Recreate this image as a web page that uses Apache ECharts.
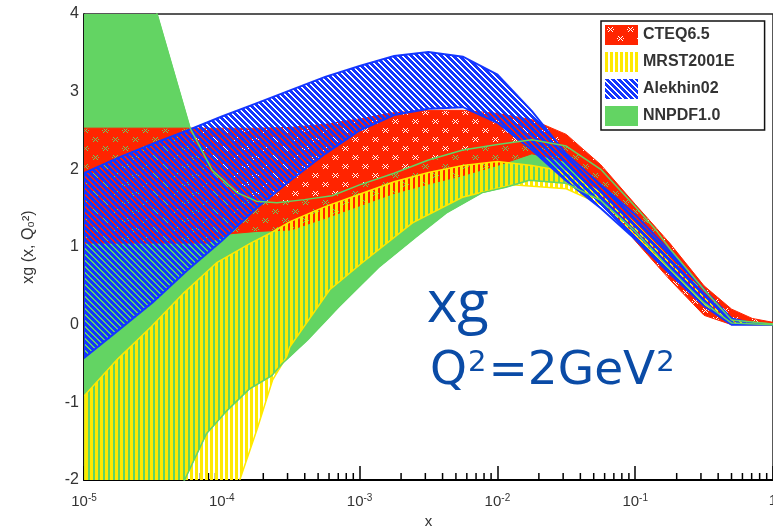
<!DOCTYPE html>
<html>
<head>
<meta charset="utf-8">
<script src="https://cdn.jsdelivr.net/npm/echarts@6/dist/echarts.min.js"></script>
<style>
html, body { margin: 0; padding: 0; background: #fff; }
#chart { width: 773px; height: 526px; }
</style>
</head>
<body>
<div id="chart"></div>
<script>
// CTEQ6.5
var cteqX  = [1e-5, 7.8e-5, 1.15e-4, 1.78e-4, 3.16e-4, 5.62e-4, 1e-3, 1.78e-3, 3.16e-3, 5.62e-3, 1e-2, 1.78e-2, 3.16e-2, 5.62e-2, 0.1, 0.178, 0.316, 0.501, 0.708, 1];
var cteqUp = [2.53, 2.53, 2.53, 2.53, 2.54, 2.58, 2.65, 2.73, 2.76, 2.76, 2.72, 2.64, 2.45, 2.06, 1.55, 1.05, 0.5, 0.2, 0.08, 0.03];
var cteqLo = [1.05, 1.05, 1.17, 1.2, 1.22, 1.37, 1.53, 1.69, 1.81, 1.92, 2.05, 2.2, 2.1, 1.62, 1.08, 0.58, 0.12, 0.0, 0.0, 0.0];

// MRST2001E
var mrstUpX = [1e-5, 1.74e-5, 3.06e-5, 5.31e-5, 9.2e-5, 1.62e-4, 2.26e-4, 3.16e-4, 5.62e-4, 1e-3, 1.78e-3, 3.16e-3, 5.62e-3, 1e-2, 1.78e-2, 3.16e-2, 5.62e-2, 0.1, 0.178, 0.316, 0.501, 0.708, 1];
var mrstUp  = [-0.92, -0.45, -0.03, 0.41, 0.8, 1.05, 1.18, 1.33, 1.52, 1.68, 1.84, 1.96, 2.05, 2.1, 2.05, 1.97, 1.7, 1.3, 0.85, 0.38, 0.06, 0.02, 0.01];
var mrstLoX = [1e-5, 3.16e-5, 1e-4, 1.35e-4, 1.8e-4, 2.34e-4, 2.96e-4, 3.11e-4, 6.07e-4, 1.05e-3, 2.42e-3, 5.57e-3, 1.28e-2, 3.16e-2, 5.62e-2, 0.1, 0.178, 0.316, 0.501, 0.708, 1];
var mrstLo  = [-4.0, -3.5, -2.6, -2.0, -1.35, -0.71, -0.41, -0.29, 0.45, 0.8, 1.31, 1.64, 1.8, 1.75, 1.55, 1.15, 0.7, 0.26, 0.02, 0.0, 0.0];

// Alekhin02
var almX  = [1e-5, 1.78e-5, 3.16e-5, 5.62e-5, 1e-4, 1.78e-4, 3.16e-4, 5.62e-4, 1e-3, 1.78e-3, 3.16e-3, 5.62e-3, 1e-2, 1.78e-2, 3.16e-2, 5.62e-2, 0.1, 0.178, 0.316, 0.501, 0.708, 1];
var almUp = [1.95, 2.15, 2.33, 2.5, 2.68, 2.85, 3.02, 3.19, 3.33, 3.46, 3.51, 3.45, 3.22, 2.75, 2.2, 1.8, 1.42, 0.95, 0.45, 0.08, 0.02, 0.0];
var almLo = [-0.43, -0.07, 0.29, 0.7, 1.08, 1.5, 1.86, 2.2, 2.5, 2.7, 2.78, 2.8, 2.6, 2.25, 1.85, 1.5, 1.1, 0.66, 0.24, 0.0, 0.0, 0.0];

// NNPDF1.0
var nnUpX = [1e-5, 1.78e-5, 3.39e-5, 5.89e-5, 8.51e-5, 1.29e-4, 1.78e-4, 2.51e-4, 3.98e-4, 6.31e-4, 1e-3, 1.78e-3, 3.16e-3, 5.62e-3, 1e-2, 1.78e-2, 3.16e-2, 5.62e-2, 0.1, 0.141, 0.178, 0.316, 0.501, 1];
var nnUp  = [7.0, 5.5, 4.0, 2.53, 1.99, 1.7, 1.59, 1.57, 1.61, 1.66, 1.8, 1.95, 2.12, 2.25, 2.32, 2.38, 2.3, 2.0, 1.52, 1.22, 0.98, 0.45, 0.06, 0.01];
var nnLoX = [1e-5, 2.51e-5, 5.37e-5, 7.76e-5, 1.1e-4, 1.58e-4, 2.29e-4, 2.75e-4, 4.17e-4, 7.08e-4, 1.38e-3, 2.57e-3, 4.27e-3, 7.76e-3, 1.15e-2, 1.7e-2, 3.16e-2, 5.62e-2, 0.1, 0.178, 0.316, 0.501, 1];
var nnLo  = [-4.0, -3.0, -2.0, -1.4, -1.1, -0.83, -0.66, -0.5, -0.2, 0.23, 0.74, 1.13, 1.44, 1.7, 1.77, 1.86, 1.82, 1.6, 1.2, 0.72, 0.28, 0.02, 0];

// axis ticks
var decades = [1e-5, 1e-4, 1e-3, 1e-2, 1e-1];
var minorSteps = [2, 3, 4, 5, 6, 7, 8, 9];

var RED = '#ff2400', YELLOW = '#ffe900', BLUE = '#1436ff', GREEN = '#63d463', TEXTBLUE = '#0a4ba6';

function tile(w, h, draw) {
  var c = document.createElement('canvas');
  c.width = w; c.height = h;
  draw(c.getContext('2d'));
  return { type: 'pattern', image: c, repeat: 'repeat' };
}

// red with little crosses punched out
var redFill = tile(20, 18, function (ctx) {
  ctx.fillStyle = RED;
  ctx.fillRect(0, 0, 20, 18);
  [[5, 4], [15, 13]].forEach(function (p) {
    [[0, 0], [-1, -1], [-2, -2], [1, 1], [2, 2], [-1, 1], [-2, 2], [1, -1], [2, -2], [-3, 0], [3, 0]].forEach(function (d) {
      ctx.clearRect(p[0] + d[0], p[1] + d[1], 1, 1);
    });
  });
});
// vertical yellow bars
var yellowFill = tile(5, 4, function (ctx) {
  ctx.fillStyle = YELLOW;
  ctx.fillRect(0, 0, 3, 4);
});
// blue "\" hatching
var blueFill = tile(6, 6, function (ctx) {
  ctx.fillStyle = BLUE;
  for (var y = 0; y < 6; y++) {
    for (var k = 0; k < 4; k++) ctx.fillRect((y + k) % 6, y, 1, 1);
  }
});

function pairs(xs, ys) {
  var out = [];
  for (var i = 0; i < xs.length; i++) out.push([xs[i], ys[i]]);
  return out;
}

function band(name, upX, up, loX, lo, fill, stroke, lw, z) {
  return {
    name: name,
    type: 'custom',
    z: z,
    clip: true,
    silent: true,
    itemStyle: { color: fill },
    data: [[upX[0], up[0]]],
    renderItem: function (params, api) {
      var pts = [];
      for (var i = 0; i < upX.length; i++) pts.push(api.coord([upX[i], up[i]]));
      for (var j = loX.length - 1; j >= 0; j--) pts.push(api.coord([loX[j], lo[j]]));
      var cs = params.coordSys;
      return {
        type: 'polygon',
        shape: { points: pts },
        clipPath: { type: 'rect', shape: { x: cs.x, y: cs.y, width: cs.width, height: cs.height } },
        style: { fill: fill, stroke: stroke, lineWidth: lw }
      };
    }
  };
}

function edge(xs, ys) {
  return {
    type: 'line',
    name: 'nnpdf-edge',
    data: pairs(xs, ys),
    symbol: 'none',
    silent: true,
    z: 7,
    lineStyle: { color: GREEN, width: 1.5 }
  };
}

var minorTicks = [];
decades.forEach(function (d) {
  minorSteps.forEach(function (m) { minorTicks.push([d * m, -2]); });
});

var chart = echarts.init(document.getElementById('chart'));

var option = {
  animation: false,
  backgroundColor: '#fff',
  grid: { left: 84, right: 0, top: 14, bottom: 46, outerBoundsMode: 'none', containLabel: false, show: true, borderColor: '#222', borderWidth: 1.5 },
  legend: {
    data: ['CTEQ6.5', 'MRST2001E', 'Alekhin02', 'NNPDF1.0'],
    orient: 'vertical',
    left: 601,
    top: 21,
    z: 10,
    icon: 'rect',
    itemWidth: 33,
    itemHeight: 20,
    itemGap: 7,
    padding: [4, 30, 4, 4],
    backgroundColor: '#fff',
    borderColor: '#111',
    borderWidth: 1.5,
    selectedMode: false,
    textStyle: { fontFamily: 'Liberation Sans', fontWeight: 'bold', fontSize: 16, color: '#333' }
  },
  xAxis: {
    type: 'log',
    logBase: 10,
    min: 1e-5,
    max: 1,
    splitNumber: 5,
    name: 'x',
    nameLocation: 'middle',
    nameGap: 24,
    nameTextStyle: { fontFamily: 'Liberation Sans', fontSize: 15, color: '#333' },
    axisLine: { show: true, onZero: false, lineStyle: { color: '#000', width: 2 } },
    axisTick: { inside: true, length: 14, lineStyle: { color: '#000', width: 1.5 } },
    splitLine: { show: false },
    axisLabel: {
      margin: 13,
      fontFamily: 'Liberation Sans',
      fontSize: 15,
      color: '#333',
      formatter: function (v) {
        var e = Math.round(Math.log(v) / Math.LN10);
        return e === 0 ? '1' : '10{sup|' + e + '}';
      },
      rich: { sup: { fontSize: 10, fontFamily: 'Liberation Sans', color: '#333', verticalAlign: 'bottom', padding: [0, 0, 7, 0] } }
    }
  },
  yAxis: {
    type: 'value',
    min: -2,
    max: 4,
    interval: 1,
    name: 'xg (x, Q\u2080\u00b2)',
    nameLocation: 'middle',
    nameRotate: 90,
    nameGap: 47,
    nameTextStyle: { fontFamily: 'Liberation Sans', fontSize: 16, color: '#333' },
    axisLine: { show: true, onZero: false, lineStyle: { color: '#000', width: 1.5 } },
    axisTick: { inside: true, length: 14, lineStyle: { color: '#000' } },
    splitLine: { show: false },
    axisLabel: { margin: 5, padding: [6, 0, 0, 0], fontFamily: 'Liberation Sans', fontSize: 16, color: '#333' }
  },
  graphic: [
    { type: 'text', x: 427, y: 305, z: 10, style: { text: 'xg', fontFamily: 'Open Sans', fontSize: 58, fill: TEXTBLUE, verticalAlign: 'middle' } },
    {
      type: 'text', x: 430, y: 372, z: 10,
      style: {
        text: 'Q{s|2}=2GeV{s|2}',
        fontFamily: 'DejaVu Sans', fontSize: 47, fill: TEXTBLUE, verticalAlign: 'middle',
        rich: { s: { fontFamily: 'DejaVu Sans', fontSize: 29, fill: TEXTBLUE, verticalAlign: 'top', padding: [0, 2, 0, 1] } }
      }
    }
  ],
  series: [
    {
      type: 'custom',
      name: 'minor-ticks',
      z: 1,
      silent: true,
      data: minorTicks,
      renderItem: function (params, api) {
        var p = api.coord([api.value(0), api.value(1)]);
        return { type: 'line', shape: { x1: p[0], y1: p[1], x2: p[0], y2: p[1] - 7 }, style: { stroke: '#000', lineWidth: 1.5 } };
      }
    },
    band('NNPDF1.0', nnUpX, nnUp, nnLoX, nnLo, GREEN, GREEN, 1, 3),
    band('CTEQ6.5', cteqX, cteqUp, cteqX, cteqLo, redFill, RED, 1, 4),
    band('MRST2001E', mrstUpX, mrstUp, mrstLoX, mrstLo, yellowFill, YELLOW, 1.5, 5),
    band('Alekhin02', almX, almUp, almX, almLo, blueFill, BLUE, 2, 6),
    edge(nnUpX, nnUp),
    edge(nnLoX, nnLo)
  ]
};

chart.setOption(option);
window.addEventListener('resize', function () { chart.resize(); });
</script>
</body>
</html>
